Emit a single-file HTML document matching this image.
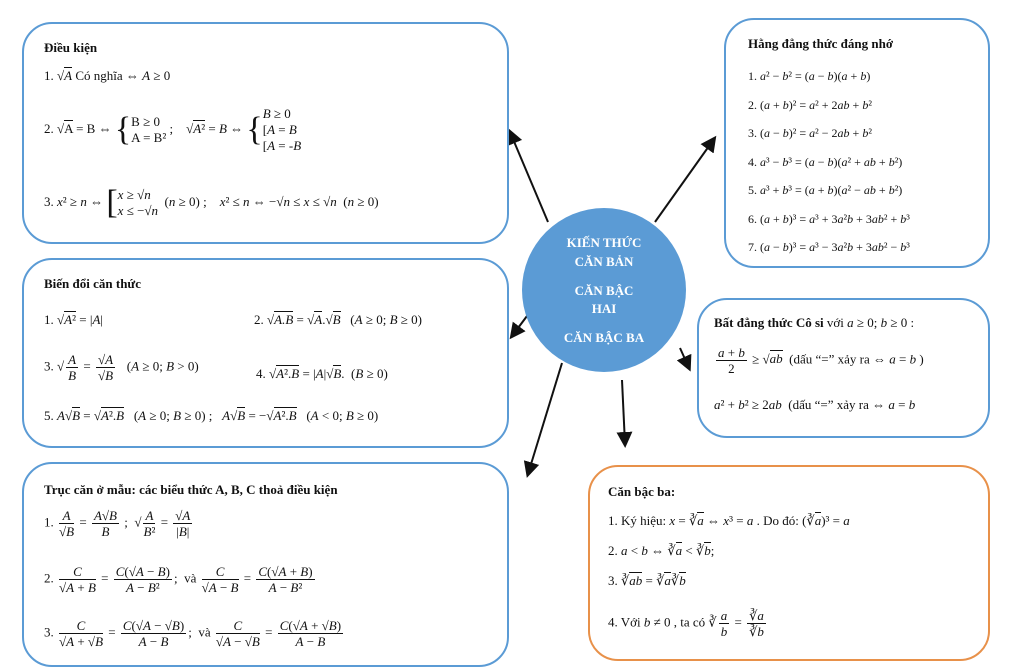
<!DOCTYPE html>
<html style="overflow:hidden"><head><meta charset="utf-8"><style>
html,body{overflow:hidden}
body{margin:0;width:1024px;height:668px;background:#fff;position:relative;overflow:hidden;font-family:"Liberation Serif",serif;font-size:13px;color:#111}
.box{position:absolute;border:2.5px solid #5b9bd5;border-radius:30px;box-sizing:border-box}
.t{position:absolute;white-space:nowrap}
b{font-weight:bold}
i{font-style:italic}
.f{display:inline-flex;flex-direction:column;vertical-align:middle;text-align:center;line-height:15px;margin:0 2px}
.f>span:first-child{border-bottom:1px solid #111;padding:0 2px}
.o{border-top:1px solid #111}
.br{font-size:34px;vertical-align:middle;font-weight:100;line-height:34px}
.st{display:inline-flex;flex-direction:column;vertical-align:middle;line-height:16px}
</style></head><body>
<svg width="1024" height="668" style="position:absolute;left:0;top:0">
<defs><marker id="a" markerWidth="8" markerHeight="8" refX="6" refY="4" orient="auto"><path d="M0,0 L8,4 L0,8 z" fill="#111"/></marker></defs>
<g stroke="#111" stroke-width="2" fill="none" marker-end="url(#a)">
<line x1="548" y1="222" x2="510" y2="132"/>
<line x1="655" y1="222" x2="714" y2="139"/>
<line x1="530" y1="312" x2="512" y2="336"/>
<line x1="680" y1="348" x2="689" y2="368"/>
<line x1="562" y1="363" x2="528" y2="474"/>
<line x1="622" y1="380" x2="625" y2="444"/>
</g>
<circle cx="604" cy="290" r="82" fill="#5b9bd5"/>
<g fill="#fff" font-family="Liberation Serif" font-weight="bold" font-size="13" text-anchor="middle">
<text x="604" y="247">KIẾN THỨC</text><text x="604" y="266">CĂN BẢN</text>
<text x="604" y="295">CĂN BẬC</text><text x="604" y="313">HAI</text>
<text x="604" y="342">CĂN BẬC BA</text></g>
</svg>

<div class="box" style="left:22px;top:22px;width:487px;height:222px"></div>
<div class="t" style="left:44px;top:40px"><b>Điều kiện</b></div>
<div class="t" style="left:44px;top:68px">1. √<span class="o"><i>A</i></span> Có nghĩa ⇔ <i>A</i> ≥ 0</div>
<div class="t" style="left:44px;top:106px">2. √<span class="o">A</span> = B ⇔ <span class="br">{</span><span class="st"><span>B ≥ 0</span><span>A = B²</span></span> ;&nbsp;&nbsp;&nbsp; √<span class="o"><i>A</i>²</span> = <i>B</i> ⇔ <span class="br">{</span><span class="st"><span><i>B</i> ≥ 0</span><span>[<i>A</i> = <i>B</i></span><span>[<i>A</i> = -<i>B</i></span></span></div>
<div class="t" style="left:44px;top:186px">3. <i>x</i>² ≥ <i>n</i> ⇔ <span class="br">[</span><span class="st"><span><i>x</i> ≥ √<i>n</i></span><span><i>x</i> ≤ −√<i>n</i></span></span>&nbsp; (<i>n</i> ≥ 0) ;&nbsp;&nbsp;&nbsp; <i>x</i>² ≤ <i>n</i> ⇔ −√<i>n</i> ≤ <i>x</i> ≤ √<i>n</i> &nbsp;(<i>n</i> ≥ 0)</div>

<div class="box" style="left:22px;top:258px;width:487px;height:190px"></div>
<div class="t" style="left:44px;top:276px"><b>Biến đổi căn thức</b></div>
<div class="t" style="left:44px;top:312px">1. √<span class="o"><i>A</i>²</span> = |<i>A</i>|</div>
<div class="t" style="left:254px;top:312px">2. √<span class="o"><i>A.B</i></span> = √<span class="o"><i>A</i></span>.√<span class="o"><i>B</i></span> &nbsp; (<i>A</i> ≥ 0; <i>B</i> ≥ 0)</div>
<div class="t" style="left:44px;top:352px">3. √<span class="f"><span><i>A</i></span><span><i>B</i></span></span> = <span class="f"><span>√<i>A</i></span><span>√<i>B</i></span></span> &nbsp; (<i>A</i> ≥ 0; <i>B</i> &gt; 0)</div>
<div class="t" style="left:256px;top:366px">4. √<span class="o"><i>A</i>².<i>B</i></span> = |<i>A</i>|√<span class="o"><i>B</i></span>. &nbsp;(<i>B</i> ≥ 0)</div>
<div class="t" style="left:44px;top:408px">5. <i>A</i>√<span class="o"><i>B</i></span> = √<span class="o"><i>A</i>².<i>B</i></span> &nbsp; (<i>A</i> ≥ 0; <i>B</i> ≥ 0) ;&nbsp;&nbsp; <i>A</i>√<span class="o"><i>B</i></span> = −√<span class="o"><i>A</i>².<i>B</i></span> &nbsp; (<i>A</i> &lt; 0; <i>B</i> ≥ 0)</div>

<div class="box" style="left:22px;top:462px;width:487px;height:205px"></div>
<div class="t" style="left:44px;top:482px"><b>Trục căn ở mẫu: các biểu thức A, B, C thoả điều kiện</b></div>
<div class="t" style="left:44px;top:508px">1. <span class="f"><span><i>A</i></span><span>√<i>B</i></span></span> = <span class="f"><span><i>A</i>√<i>B</i></span><span><i>B</i></span></span> ; &nbsp;√<span class="f"><span><i>A</i></span><span><i>B</i>²</span></span> = <span class="f"><span>√<i>A</i></span><span>|<i>B</i>|</span></span></div>
<div class="t" style="left:44px;top:564px">2. <span class="f"><span><i>C</i></span><span>√<i>A</i> + <i>B</i></span></span> = <span class="f"><span><i>C</i>(√<i>A</i> − <i>B</i>)</span><span><i>A</i> − <i>B</i>²</span></span>; &nbsp;và <span class="f"><span><i>C</i></span><span>√<i>A</i> − <i>B</i></span></span> = <span class="f"><span><i>C</i>(√<i>A</i> + <i>B</i>)</span><span><i>A</i> − <i>B</i>²</span></span></div>
<div class="t" style="left:44px;top:618px">3. <span class="f"><span><i>C</i></span><span>√<i>A</i> + √<i>B</i></span></span> = <span class="f"><span><i>C</i>(√<i>A</i> − √<i>B</i>)</span><span><i>A</i> − <i>B</i></span></span>; &nbsp;và <span class="f"><span><i>C</i></span><span>√<i>A</i> − √<i>B</i></span></span> = <span class="f"><span><i>C</i>(√<i>A</i> + √<i>B</i>)</span><span><i>A</i> − <i>B</i></span></span></div>

<div class="box" style="left:724px;top:18px;width:266px;height:250px"></div>
<div class="t" style="left:748px;top:36px"><b>Hằng đẳng thức đáng nhớ</b></div>
<div class="t" style="left:748px;top:62px;line-height:28.5px;font-size:12px">
1. <i>a</i>² − <i>b</i>² = (<i>a</i> − <i>b</i>)(<i>a</i> + <i>b</i>)<br>
2. (<i>a</i> + <i>b</i>)² = <i>a</i>² + 2<i>ab</i> + <i>b</i>²<br>
3. (<i>a</i> − <i>b</i>)² = <i>a</i>² − 2<i>ab</i> + <i>b</i>²<br>
4. <i>a</i>³ − <i>b</i>³ = (<i>a</i> − <i>b</i>)(<i>a</i>² + <i>ab</i> + <i>b</i>²)<br>
5. <i>a</i>³ + <i>b</i>³ = (<i>a</i> + <i>b</i>)(<i>a</i>² − <i>ab</i> + <i>b</i>²)<br>
6. (<i>a</i> + <i>b</i>)³ = <i>a</i>³ + 3<i>a</i>²<i>b</i> + 3<i>ab</i>² + <i>b</i>³<br>
7. (<i>a</i> − <i>b</i>)³ = <i>a</i>³ − 3<i>a</i>²<i>b</i> + 3<i>ab</i>² − <i>b</i>³</div>

<div class="box" style="left:697px;top:298px;width:293px;height:140px"></div>
<div class="t" style="left:714px;top:315px"><b>Bất đẳng thức Cô si</b> với <i>a</i> ≥ 0; <i>b</i> ≥ 0 :</div>
<div class="t" style="left:714px;top:345px"><span class="f"><span><i>a</i> + <i>b</i></span><span>2</span></span> ≥ √<span class="o"><i>ab</i></span> &nbsp;(dấu “=” xảy ra ⇔ <i>a</i> = <i>b</i> )</div>
<div class="t" style="left:714px;top:397px"><i>a</i>² + <i>b</i>² ≥ 2<i>ab</i> &nbsp;(dấu “=” xảy ra ⇔ <i>a</i> = <i>b</i></div>

<div class="box" style="left:588px;top:465px;width:402px;height:196px;border-color:#e8914a"></div>
<div class="t" style="left:608px;top:484px"><b>Căn bậc ba:</b></div>
<div class="t" style="left:608px;top:513px">1. Ký hiệu: <i>x</i> = ∛<span class="o"><i>a</i></span> ⇔ <i>x</i>³ = <i>a</i> . Do đó: (∛<span class="o"><i>a</i></span>)³ = <i>a</i></div>
<div class="t" style="left:608px;top:543px">2. <i>a</i> &lt; <i>b</i> ⇔ ∛<span class="o"><i>a</i></span> &lt; ∛<span class="o"><i>b</i></span>;</div>
<div class="t" style="left:608px;top:573px">3. ∛<span class="o"><i>ab</i></span> = ∛<span class="o"><i>a</i></span>∛<span class="o"><i>b</i></span></div>
<div class="t" style="left:608px;top:608px">4. Với <i>b</i> ≠ 0 , ta có ∛<span class="f"><span><i>a</i></span><span><i>b</i></span></span> = <span class="f"><span>∛<i>a</i></span><span>∛<i>b</i></span></span></div>
</body></html>
